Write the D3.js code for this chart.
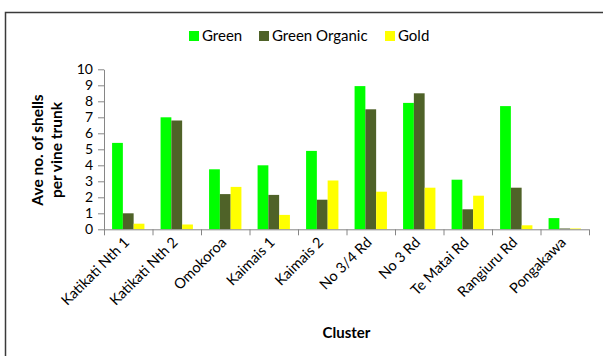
<!DOCTYPE html>
<html lang="en">
<head>
<meta charset="UTF-8">
<title>Ave no. of shells per vine trunk</title>
<script src="https://d3js.org/d3.v7.min.js"></script>
<style>
  body { margin: 0; background: #fff; }
  svg text { font-family: Lato, "Open Sans", sans-serif; fill: #000; }
</style>
</head>
<body>
<svg width="603" height="356"></svg>
<script>
// data
const clusters = ['Katikati Nth 1', 'Katikati Nth 2', 'Omokoroa', 'Kaimais 1', 'Kaimais 2',
                  'No 3/4 Rd', 'No 3 Rd', 'Te Matai Rd', 'Rangiuru Rd', 'Pongakawa'];
const seriesNames = ['Green', 'Green Organic', 'Gold'];
const green        = [5.4, 7.0, 3.75, 4.0, 4.9, 8.95, 7.9, 3.1, 7.7, 0.7];
const greenOrganic = [1.0, 6.8, 2.2, 2.15, 1.85, 7.5, 8.5, 1.25, 2.6, 0.05];
const gold         = [0.35, 0.3, 2.65, 0.9, 3.05, 2.35, 2.6, 2.1, 0.25, 0.05];
const yTicks = [0, 1, 2, 3, 4, 5, 6, 7, 8, 9, 10];

const colors = ['#00ff00', '#4f6228', '#ffff00'];
const values = [green, greenOrganic, gold];

const svg = d3.select('svg');

// outer chart border (runs off the right and bottom)
svg.append('rect')
    .attr('x', 5.5).attr('y', 12.5)
    .attr('width', 640).attr('height', 400)
    .attr('fill', 'none')
    .attr('stroke', '#3a3a3a')
    .attr('stroke-width', 1.5);

const plotLeft = 104, plotRight = 589, plotTop = 69.3, plotBottom = 229.3;

const x0 = d3.scaleBand()
    .domain(clusters)
    .range([plotLeft, plotRight])
    .paddingInner(0.3333)
    .paddingOuter(0.1667);

const x1 = d3.scaleBand()
    .domain(seriesNames)
    .range([0, x0.bandwidth()]);

const y = d3.scaleLinear()
    .domain([0, 10])
    .range([plotBottom, plotTop]);

// bars
const rows = clusters.map((c, i) => ({ cluster: c, vals: seriesNames.map((s, j) => ({ s, j, v: values[j][i] })) }));

svg.append('g')
  .selectAll('g')
  .data(rows)
  .enter()
  .append('g')
    .attr('transform', d => `translate(${x0(d.cluster)},0)`)
  .selectAll('rect')
  .data(d => d.vals)
  .enter()
  .append('rect')
    .attr('x', d => x1(d.s))
    .attr('y', d => y(d.v))
    .attr('width', x1.bandwidth())
    .attr('height', d => plotBottom - y(d.v))
    .attr('fill', d => colors[d.j]);

// y axis
const yAxis = svg.append('g')
    .attr('transform', `translate(${plotLeft},0)`)
    .call(d3.axisLeft(y).tickValues(yTicks).tickSize(6).tickSizeOuter(0).tickPadding(5));
yAxis.select('.domain').attr('stroke', '#868686');
yAxis.selectAll('line').attr('stroke', '#868686');
yAxis.selectAll('text').attr('font-size', 14).attr('fill', '#000');

// x axis: ticks between categories
const bandStep = (plotRight - plotLeft) / clusters.length;
const xTickPos = d3.range(clusters.length + 1).map(i => plotLeft + i * bandStep);
const xAxis = svg.append('g');
xAxis.append('line')
    .attr('x1', plotLeft).attr('x2', plotRight)
    .attr('y1', plotBottom + 0.5).attr('y2', plotBottom + 0.5)
    .attr('stroke', '#868686');
xAxis.selectAll('.tick')
  .data(xTickPos)
  .enter()
  .append('line')
    .attr('x1', d => d + 0.5).attr('x2', d => d + 0.5)
    .attr('y1', plotBottom).attr('y2', plotBottom + 6)
    .attr('stroke', '#868686');

xAxis.selectAll('.lbl')
  .data(clusters)
  .enter()
  .append('text')
    .attr('transform', d => `translate(${x0(d) + x0.bandwidth() / 2 + 2},${plotBottom + 14}) rotate(-45)`)
    .attr('text-anchor', 'end')
    .attr('font-size', 14.5)
    .text(d => d);

// axis titles
const yTitle = svg.append('text')
    .attr('transform', `translate(43,150) rotate(-90)`)
    .attr('text-anchor', 'middle')
    .attr('font-size', 15.5)
    .attr('font-weight', 'bold');
yTitle.append('tspan').attr('x', 0).attr('dy', 0).text('Ave no. of shells');
yTitle.append('tspan').attr('x', 0).attr('dy', 19).text('per vine trunk');

svg.append('text')
    .attr('x', (plotLeft + plotRight) / 2)
    .attr('y', 338)
    .attr('text-anchor', 'middle')
    .attr('font-size', 15)
    .attr('font-weight', 'bold')
    .text('Cluster');

// legend
const legendX = [189, 259, 385];
const legend = svg.append('g');
seriesNames.forEach((s, i) => {
    legend.append('rect')
        .attr('x', legendX[i]).attr('y', 31)
        .attr('width', 10).attr('height', 10)
        .attr('fill', colors[i]);
    legend.append('text')
        .attr('x', legendX[i] + 13).attr('y', 41)
        .attr('font-size', 15)
        .text(s);
});
</script>
</body>
</html>
